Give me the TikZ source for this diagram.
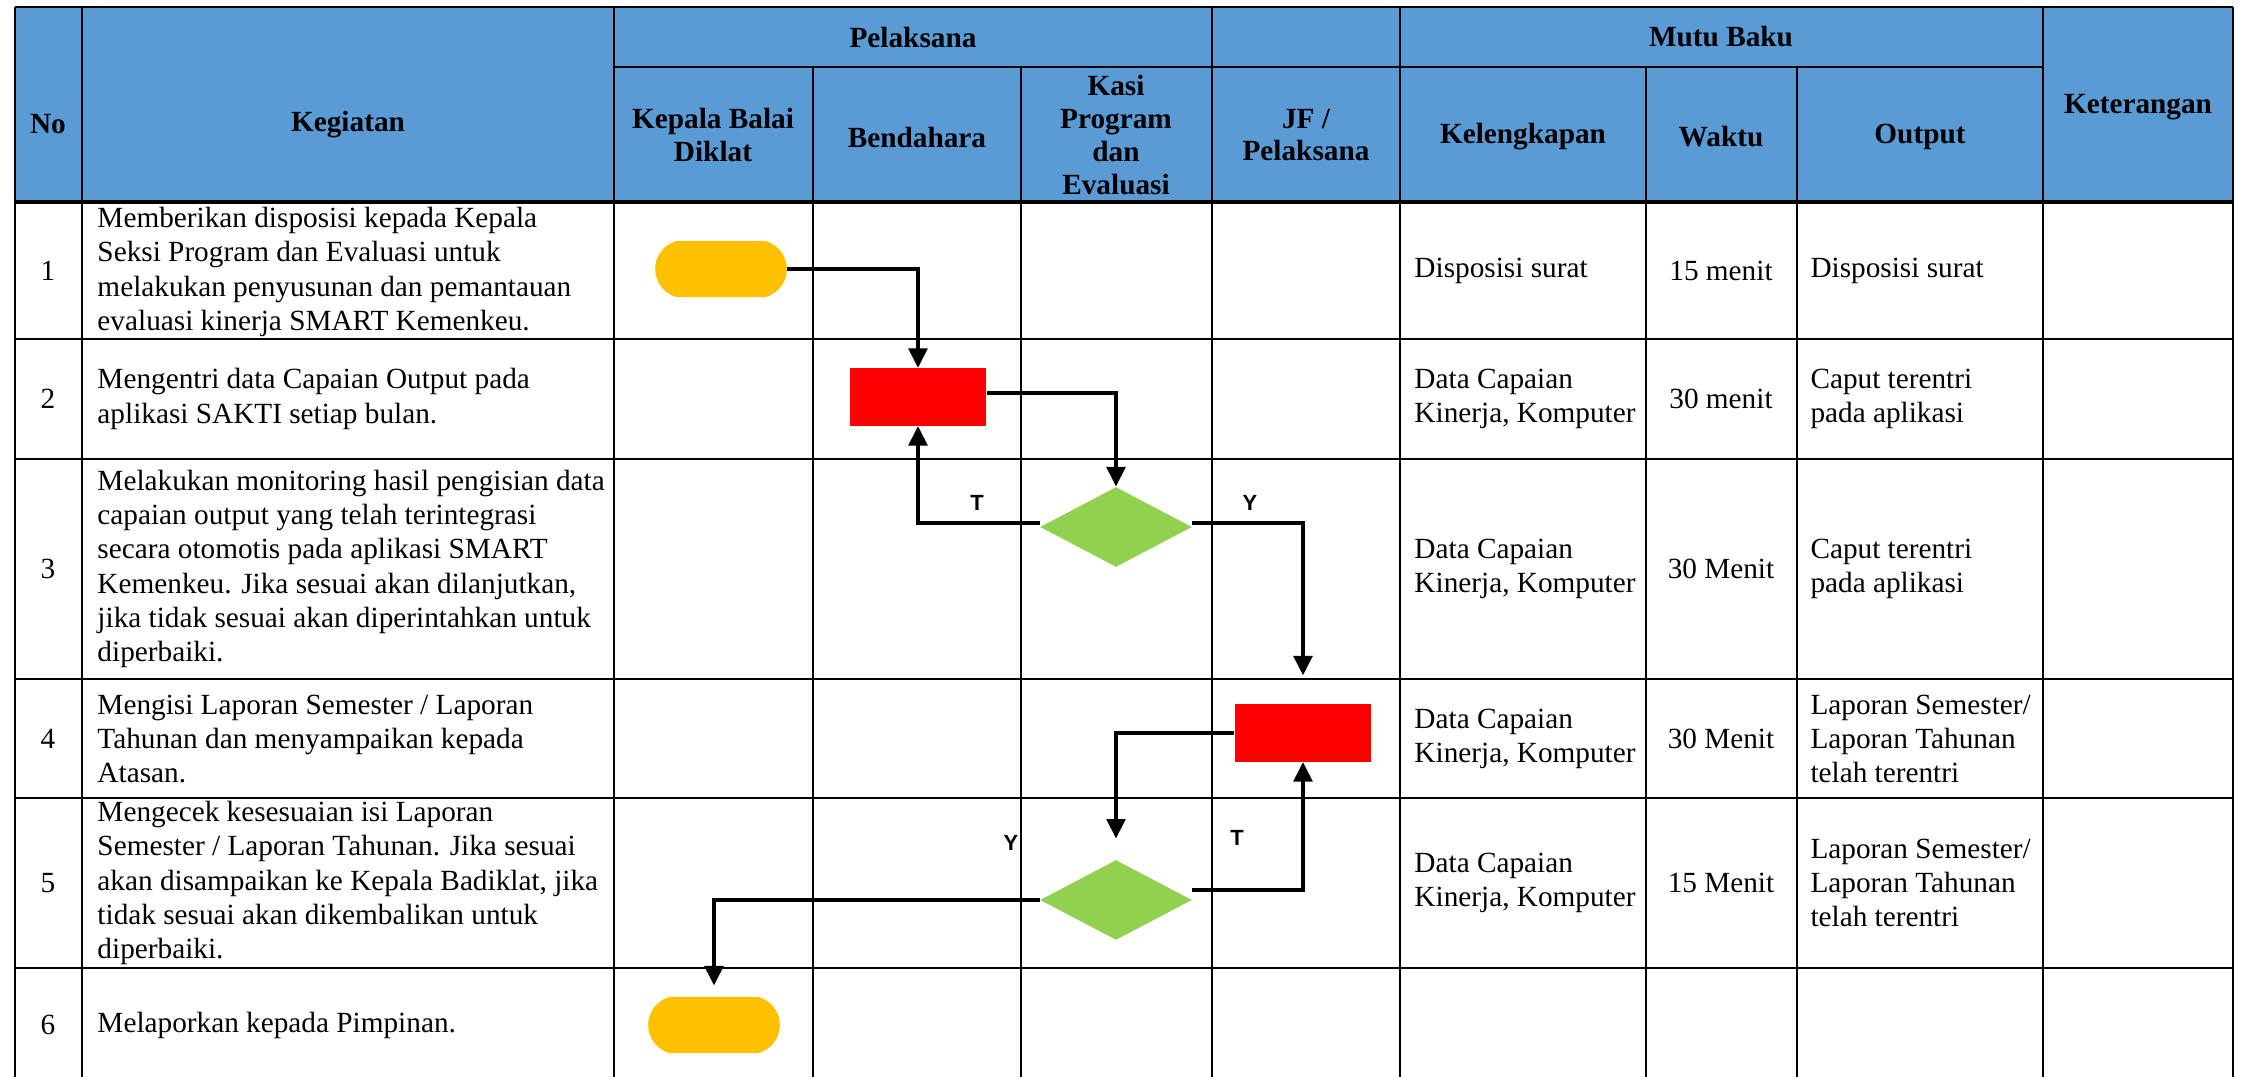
\documentclass[tikz,border=0pt]{standalone}
\usepackage{fontspec}
\setmainfont{Liberation Serif}
\newfontfamily\labelfont{Liberation Sans}
\usepackage{tikz}
\usetikzlibrary{shapes, arrows.meta, positioning}
\usepackage{xcolor}

\definecolor{headblue}{RGB}{91,155,213}
\definecolor{termyellow}{RGB}{255,192,0}
\definecolor{procred}{RGB}{255,0,0}
\definecolor{decgreen}{RGB}{146,208,80}

\tikzset{
  terminal/.style={rounded rectangle, rounded rectangle arc length=150, fill=termyellow, minimum width=54pt, minimum height=23pt, inner sep=0pt},
  process/.style={rectangle, fill=procred, minimum width=56pt, minimum height=23.4pt, inner sep=0pt},
  decision/.style={diamond, fill=decgreen, minimum width=62.3pt, minimum height=32.8pt, inner sep=0pt},
  flow/.style={line width=1.6pt, -{Triangle[width=7.6pt, length=8pt]}},
  yt/.style={font=\labelfont\bfseries\fontsize{9}{10}\selectfont, inner sep=0pt},
  headtxt/.style={font=\bfseries\fontsize{12}{13.5}\selectfont, align=center, inner sep=0pt},
  celltxt/.style={font=\fontsize{12}{14}\selectfont, align=left, inner sep=0pt, anchor=west},
  numtxt/.style={font=\fontsize{12}{14}\selectfont, inner sep=0pt},
  gridline/.style={line width=1pt}
}

\begin{document}
\begin{tikzpicture}[x=0.41pt, y=-0.41pt]
\useasboundingbox (0,0) rectangle (2241,1077);

% header
\fill[headblue] (15,7) rectangle (2233,202);
\draw[gridline] (15,7) -- (2233,7);
\draw[gridline] (614,67) -- (2043,67);
\draw[line width=1.4pt] (15,202) -- (2233,202);
\foreach \y in {339,459,679,798,968}
  \draw[gridline] (15,\y) -- (2233,\y);
\foreach \x in {15,82,614,1212,1400,2043,2233}
  \draw[gridline] (\x,7) -- (\x,1077);
\foreach \x in {813,1021,1646,1797}
  \draw[gridline] (\x,67) -- (\x,1077);

\node[headtxt] (hno) at (48,124) {No};
\node[headtxt] (hkeg) at (348,125) {Kegiatan};
\node[headtxt] (hpel) at (913,37) {Pelaksana};
\node[headtxt] (hmutu) at (1721,37) {Mutu Baku};
\node[headtxt] (hket) at (2138,107) {Keterangan};
\node[headtxt] (hkb) at (713,135) {Kepala Balai\\Diklat};
\node[headtxt] (hbend) at (917,137) {Bendahara};
\node[headtxt] (hkasi) at (1116,135) {Kasi\\Program\\dan\\Evaluasi};
\node[headtxt] (hjf) at (1306,135) {JF /\\Pelaksana};
\node[headtxt] (hkel) at (1523,137) {Kelengkapan};
\node[headtxt] (hwkt) at (1721,137) {Waktu};
\node[headtxt] (hout) at (1920,137) {Output};

% nomor
\node[numtxt] (n1) at (48,271) {1};
\node[numtxt] (n2) at (48,399) {2};
\node[numtxt] (n3) at (48,569) {3};
\node[numtxt] (n4) at (48,739) {4};
\node[numtxt] (n5) at (48,883) {5};
\node[numtxt] (n6) at (48,1025) {6};

% kegiatan
\node[celltxt] (k1) at (97,272) {Memberikan disposisi kepada Kepala\\Seksi Program dan Evaluasi untuk\\melakukan penyusunan dan pemantauan\\evaluasi kinerja SMART Kemenkeu.};
\node[celltxt] (k2) at (97,399) {Mengentri data Capaian Output pada\\aplikasi SAKTI setiap bulan.};
\node[celltxt] (k3) at (97,569) {Melakukan monitoring hasil pengisian data\\capaian output yang telah terintegrasi\\secara otomotis pada aplikasi SMART\\Kemenkeu. Jika sesuai akan dilanjutkan,\\jika tidak sesuai akan diperintahkan untuk\\diperbaiki.};
\node[celltxt] (k4) at (97,739) {Mengisi Laporan Semester / Laporan\\Tahunan dan menyampaikan kepada\\Atasan.};
\node[celltxt] (k5) at (97,883) {Mengecek kesesuaian isi Laporan\\Semester / Laporan Tahunan. Jika sesuai\\akan disampaikan ke Kepala Badiklat, jika\\tidak sesuai akan dikembalikan untuk\\diperbaiki.};
\node[celltxt] (k6) at (97,1025) {Melaporkan kepada Pimpinan.};

% mutu baku
\node[celltxt] (kel1) at (1414,271) {Disposisi surat};
\node[celltxt] (kel2) at (1414,399) {Data Capaian\\Kinerja, Komputer};
\node[celltxt] (kel3) at (1414,569) {Data Capaian\\Kinerja, Komputer};
\node[celltxt] (kel4) at (1414,739) {Data Capaian\\Kinerja, Komputer};
\node[celltxt] (kel5) at (1414,883) {Data Capaian\\Kinerja, Komputer};
\node[numtxt] (w1) at (1721,271) {15 menit};
\node[numtxt] (w2) at (1721,399) {30 menit};
\node[numtxt] (w3) at (1721,569) {30 Menit};
\node[numtxt] (w4) at (1721,739) {30 Menit};
\node[numtxt] (w5) at (1721,883) {15 Menit};
\node[celltxt] (o1) at (1810,271) {Disposisi surat};
\node[celltxt] (o2) at (1810,399) {Caput terentri\\pada aplikasi};
\node[celltxt] (o3) at (1810,569) {Caput terentri\\pada aplikasi};
\node[celltxt] (o4) at (1810,739) {Laporan Semester/\\Laporan Tahunan\\telah terentri};
\node[celltxt] (o5) at (1810,883) {Laporan Semester/\\Laporan Tahunan\\telah terentri};

% alur
\node[terminal] (t1) at (721,269) {};
\node[process] (p1) at (918,397) {};
\node[decision] (d1) at (1116,527) {};
\node[process] (p2) at (1303,733) {};
\node[decision] (d2) at (1116,900) {};
\node[terminal] (t2) at (714,1025) {};
\coordinate (e1) at ([yshift=11.7pt]p2.north);
\coordinate (e2) at ([yshift=8.6pt]d2.north);
\coordinate (e3) at ([yshift=4.5pt]t2.north);

\draw[flow] (t1.east) -| (p1.north);
\draw[flow] ([yshift=1.6pt]p1.east) -| (d1.north);
\draw[flow] ([yshift=1.6pt]d1.west) -| (p1.south);
\draw[flow] ([yshift=1.6pt]d1.east) -| (e1);
\draw[flow] (p2.west) -| (e2);
\draw[flow] ([yshift=4pt]d2.east) -| (p2.south);
\draw[flow] (d2.west) -| (e3);

\node[yt] (lt1) at (977,503) {T};
\node[yt] (ly1) at (1250,503) {Y};
\node[yt] (ly2) at (1011,843) {Y};
\node[yt] (lt2) at (1237,838) {T};
\end{tikzpicture}
\end{document}
